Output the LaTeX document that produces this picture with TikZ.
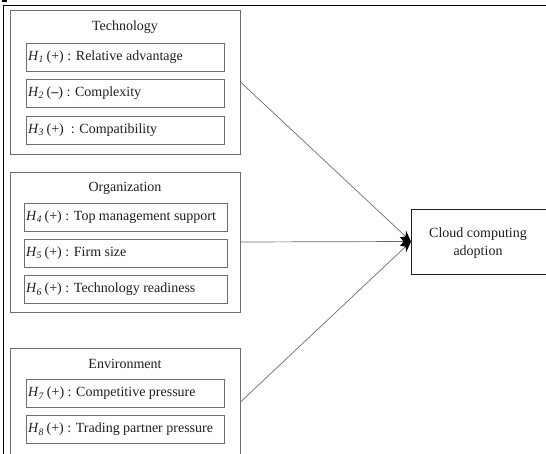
\documentclass[tikz,border=0pt]{standalone}
\usepackage{fontspec}
\setmainfont{Liberation Serif}
\usetikzlibrary{arrows.meta}
\definecolor{edge}{HTML}{6E6E6E}
\definecolor{ink}{HTML}{1E1E1E}
\newcommand{\hyp}[2]{\textit{H}\textsubscript{\textit{#1}}\hspace{2.5pt}(#2)}
\tikzset{
  groupbox/.style={draw=edge, line width=0.9pt, minimum width=230pt, inner sep=0pt},
  hypbox/.style={draw=edge, line width=0.9pt, minimum height=28pt, inner sep=0pt,
    font=\fontsize{14}{16}\selectfont, text=ink},
  title/.style={font=\fontsize{14}{16}\selectfont, text=ink, inner sep=0pt},
  link/.style={draw=edge, line width=0.7pt, -{Stealth[length=11pt,width=9pt,color=black,fill=black]}}
}
% box content, left aligned with natural spacing
\newcommand{\hyprow}[2]{\makebox[#1][l]{\hspace{2pt}#2}}
\begin{document}
\begin{tikzpicture}[x=1pt,y=-1pt]
\useasboundingbox (0,0) rectangle (546,454);
\begin{scope}
\clip (0,0) rectangle (546,454);
% frame of the page
\draw[black, line width=1pt] (3,470) -- (3,6) -- (560,6);
\fill[black] (2,0) rectangle (7,2);

% factor groups
\node[groupbox, minimum height=144pt] (tech) at (125,82) {};
\node[groupbox, minimum height=140pt] (org) at (125,242) {};
\node[groupbox, minimum height=108pt] (env) at (125,402) {};
\draw[white, line width=2pt] (8,456) -- (242,456);

\node[title] (ttech) at (125,27) {Technology};
\node[title] (torg) at (125,188) {Organization};
\node[title] (tenv) at (125,364) {Environment};

% hypotheses
\node[hypbox] (h1) at (125,57) {\hyprow{198pt}{\hyp{1}{+} : Relative advantage}};
\node[hypbox] (h2) at (125,93) {\hyprow{198pt}{\hyp{2}{\textbf{--}} : Complexity}};
\node[hypbox] (h3) at (125,130) {\hyprow{198pt}{\hyp{3}{+}\ \ : Compatibility}};
\node[hypbox] (h4) at (125.5,217) {\hyprow{203pt}{\hyp{4}{+} : Top management support}};
\node[hypbox] (h5) at (125.5,253) {\hyprow{203pt}{\hyp{5}{+} : Firm size}};
\node[hypbox] (h6) at (125.5,289.5) {\hyprow{203pt}{\hyp{6}{+} : Technology readiness}};
\node[hypbox] (h7) at (125,393.5) {\hyprow{198pt}{\hyp{7}{+} : Competitive pressure}};
\node[hypbox] (h8) at (125,429.5) {\hyprow{198pt}{\hyp{8}{+} : Trading partner pressure}};

% outcome
\node[draw=ink, line width=0.9pt, minimum width=138pt, minimum height=65pt, inner sep=0pt,
  anchor=west] (cloud) at (411,241.5) {};
\node[align=center, font=\fontsize{14}{18}\selectfont, text=ink] (ctext) at (478,243) {Cloud computing\\adoption};

% influences
\draw[link] (tech.east) -- (cloud.west);
\draw[link] (org.east) -- (cloud.west);
\draw[link] (env.east) -- (cloud.west);
\end{scope}
\end{tikzpicture}
\end{document}
